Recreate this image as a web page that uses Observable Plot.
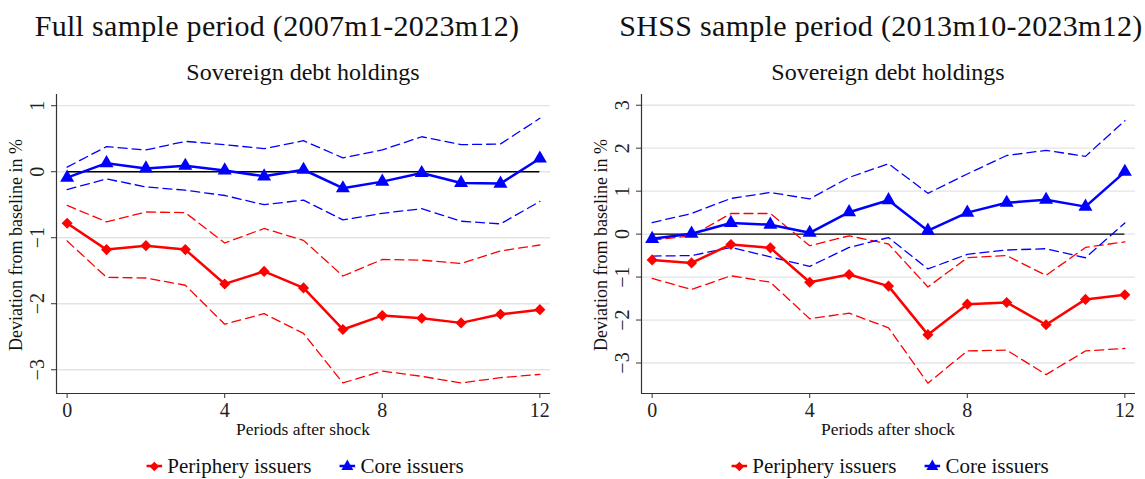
<!DOCTYPE html>
<html>
<head>
<meta charset="utf-8">
<script src="https://cdn.jsdelivr.net/npm/d3@7"></script>
<script src="https://cdn.jsdelivr.net/npm/@observablehq/plot@0.6"></script>
<style>
  html, body { margin: 0; padding: 0; background: white; }
  #root { position: relative; width: 1145px; height: 479px; overflow: hidden; background: white; font-family: "Liberation Serif", "DejaVu Serif", serif; color: #111; }
  .abs { position: absolute; white-space: nowrap; line-height: 1.15; }
  .title { font-size: 30px; transform: translateX(-50%); letter-spacing: 0.3px; }
  .sub { font-size: 24px; transform: translateX(-50%); }
  .xlab { font-size: 17.5px; transform: translateX(-50%); }
  .ylab { font-size: 18px; transform: translate(-50%, -50%) rotate(-90deg); }
  .legend { font-size: 21px; display: flex; align-items: center; transform: translateX(-50%); }
  .legend svg { margin-right: 5px; }
  .legend span.gap { margin-right: 28px; }
</style>
</head>
<body>
<div id="root"></div>
<script>
// ---- data ----
const periods = [0, 1, 2, 3, 4, 5, 6, 7, 8, 9, 10, 11, 12];
const xTicks = [0, 4, 8, 12];
const seriesNames = ["Periphery issuers", "Core issuers"];
const panelTitles = ["Full sample period (2007m1-2023m12)", "SHSS sample period (2013m10-2023m12)"];
const subTitle = "Sovereign debt holdings";
const xLabel = "Periods after shock";
const yLabel = "Deviation from baseline in %";
const baseline = 0;

// Full sample
const fullPeriphery   = [-0.78, -1.18, -1.12, -1.18, -1.70, -1.51, -1.76, -2.39, -2.18, -2.22, -2.29, -2.16, -2.09];
const fullPeripheryHi = [-0.51, -0.76, -0.61, -0.62, -1.08, -0.86, -1.04, -1.58, -1.33, -1.34, -1.39, -1.20, -1.11];
const fullPeripheryLo = [-1.05, -1.60, -1.61, -1.72, -2.31, -2.15, -2.45, -3.20, -3.02, -3.10, -3.20, -3.12, -3.07];
const fullCore        = [-0.09, 0.13, 0.05, 0.09, 0.02, -0.07, 0.03, -0.25, -0.15, -0.02, -0.17, -0.18, 0.20];
const fullCoreHi      = [0.07, 0.38, 0.33, 0.46, 0.41, 0.35, 0.47, 0.21, 0.33, 0.53, 0.41, 0.42, 0.81];
const fullCoreLo      = [-0.27, -0.11, -0.23, -0.28, -0.36, -0.50, -0.43, -0.73, -0.63, -0.56, -0.75, -0.79, -0.45];
const fullYTicks = [1, 0, -1, -2, -3];

// SHSS sample
const shssPeriphery   = [-0.60, -0.67, -0.24, -0.32, -1.12, -0.94, -1.21, -2.34, -1.63, -1.59, -2.11, -1.52, -1.41];
const shssPeripheryHi = [-0.14, -0.04, 0.48, 0.48, -0.27, -0.04, -0.23, -1.23, -0.55, -0.50, -0.96, -0.31, -0.18];
const shssPeripheryLo = [-1.03, -1.29, -0.97, -1.12, -1.97, -1.84, -2.18, -3.47, -2.72, -2.70, -3.27, -2.72, -2.66];
const shssCore        = [-0.11, 0.01, 0.26, 0.22, 0.03, 0.51, 0.79, 0.08, 0.50, 0.73, 0.80, 0.64, 1.45];
const shssCoreHi      = [0.27, 0.48, 0.83, 0.97, 0.82, 1.32, 1.64, 0.95, 1.40, 1.83, 1.95, 1.81, 2.64];
const shssCoreLo      = [-0.51, -0.50, -0.31, -0.53, -0.75, -0.31, -0.08, -0.81, -0.47, -0.37, -0.34, -0.55, 0.26];
const shssYTicks = [3, 2, 1, 0, -1, -2, -3];

const colors = { "Periphery issuers": "#ff0000", "Core issuers": "#0000ff" };
const fmt = d => (d < 0 ? "\u2212" + Math.abs(d) : String(d));

function rows(series, values) {
  return periods.map((p, i) => ({ period: p, value: values[i], series }));
}

function panel(per, perHi, perLo, core, coreHi, coreLo, yDomain, yTicks) {
  const main = [...rows("Periphery issuers", per), ...rows("Core issuers", core)];
  const bands = [
    ...rows("Periphery issuers", perHi).map(d => ({...d, band: "pHi"})),
    ...rows("Periphery issuers", perLo).map(d => ({...d, band: "pLo"})),
    ...rows("Core issuers", coreHi).map(d => ({...d, band: "cHi"})),
    ...rows("Core issuers", coreLo).map(d => ({...d, band: "cLo"}))
  ];
  const xDomain = [-0.27, 12.27];
  return Plot.plot({
    width: 560, height: 330,
    marginLeft: 56, marginRight: 10, marginTop: 6, marginBottom: 25,
    x: { domain: xDomain },
    y: { domain: yDomain },
    color: { domain: seriesNames, range: seriesNames.map(s => colors[s]) },
    style: { fontFamily: "Liberation Serif", fontSize: "20px", background: "white", color: "#222", overflow: "visible" },
    marks: [
      Plot.gridY(yTicks, { stroke: "#e4e4e4", strokeOpacity: 1, strokeWidth: 1.3 }),
      Plot.ruleY([baseline], { x1: periods[0], x2: periods[periods.length - 1], stroke: "black", strokeWidth: 1.4 }),
      Plot.line(bands, { x: "period", y: "value", z: "band", stroke: "series", strokeWidth: 1.3, strokeDasharray: "9,5" }),
      Plot.line(main, { x: "period", y: "value", z: "series", stroke: "series", strokeWidth: 2.5 }),
      Plot.dot(main.filter(d => d.series === "Periphery issuers"), { x: "period", y: "value", fill: "series", symbol: "diamond2", r: 5 }),
      Plot.dot(main.filter(d => d.series === "Core issuers"), { x: "period", y: "value", fill: "series", symbol: "triangle", r: 5.2 }),
      Plot.ruleX([xDomain[0]], { stroke: "#333", strokeWidth: 1.2 }),
      Plot.ruleY([yDomain[0]], { stroke: "#333", strokeWidth: 1.2 }),
      Plot.axisX(xTicks, { tickSize: 5, tickPadding: 4, label: null, stroke: "#333", tickFormat: fmt }),
      Plot.axisY(yTicks, { tickSize: 5, tickPadding: 8, tickRotate: -90, label: null, stroke: "#333", tickFormat: fmt })
    ]
  });
}

const root = document.getElementById("root");

function add(cls, text, left, top) {
  const d = document.createElement("div");
  d.className = "abs " + cls;
  d.textContent = text;
  d.style.left = left + "px";
  d.style.top = top + "px";
  root.appendChild(d);
  return d;
}

function legend(centerX, top) {
  const d = document.createElement("div");
  d.className = "abs legend";
  d.style.left = centerX + "px";
  d.style.top = top + "px";
  seriesNames.forEach((s, i) => {
    const svg = d3.create("svg").attr("width", 16).attr("height", 14);
    svg.append("line").attr("x1", 0).attr("x2", 16).attr("y1", 7).attr("y2", 7).attr("stroke", colors[s]).attr("stroke-width", 2.4);
    const sym = i === 0 ? d3.symbolDiamond2 : d3.symbolTriangle;
    svg.append("path").attr("d", d3.symbol(sym, i === 0 ? 60 : 62)()).attr("transform", "translate(8,7.5)").attr("fill", colors[s]);
    d.appendChild(svg.node());
    const sp = document.createElement("span");
    sp.textContent = s;
    if (i === 0) sp.className = "gap";
    d.appendChild(sp);
  });
  root.appendChild(d);
}

const panels = [
  { left: 0, plot: panel(fullPeriphery, fullPeripheryHi, fullPeripheryLo, fullCore, fullCoreHi, fullCoreLo, [-3.36, 1.17], fullYTicks), title: panelTitles[0] },
  { left: 585, plot: panel(shssPeriphery, shssPeripheryHi, shssPeripheryLo, shssCore, shssCoreHi, shssCoreLo, [-3.71, 3.25], shssYTicks), title: panelTitles[1] }
];

panels.forEach((p, i) => {
  const tcx = i === 0 ? 277 : 881;
  add("title", p.title, tcx, 9);
  add("sub", subTitle, p.left + 303, 59);
  const holder = document.createElement("div");
  holder.className = "abs";
  holder.style.left = p.left + "px";
  holder.style.top = "88px";
  holder.style.lineHeight = "0";
  holder.appendChild(p.plot);
  root.appendChild(holder);
  add("xlab", xLabel, p.left + 303, 419);
  add("ylab", yLabel, p.left + 16, 245);
  legend(p.left + 305, 454);
});
</script>
</body>
</html>
